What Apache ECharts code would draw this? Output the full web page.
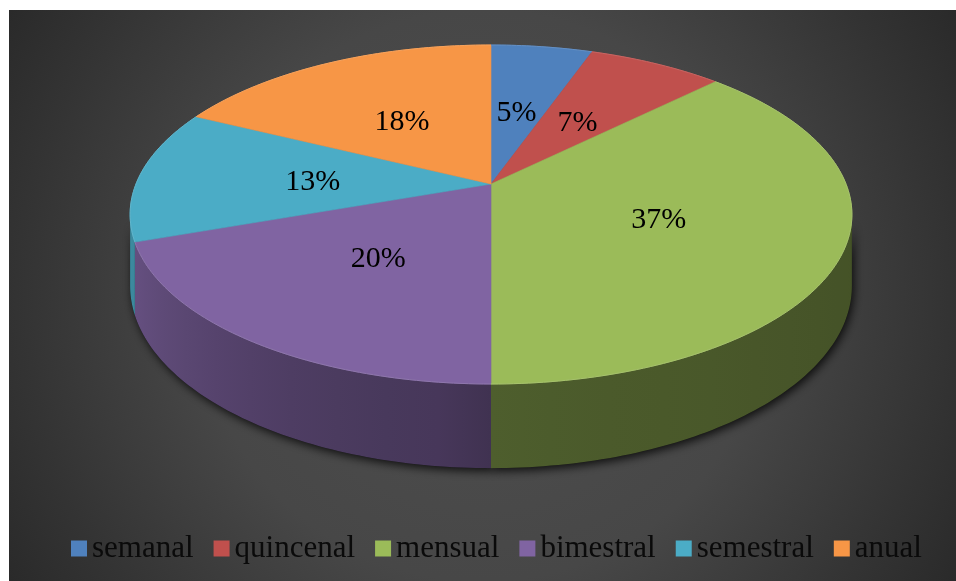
<!DOCTYPE html>
<html>
<head>
<meta charset="utf-8">
<script src="https://cdn.jsdelivr.net/npm/echarts@6/dist/echarts.min.js"></script>
<style>
  html, body { margin: 0; padding: 0; background: #ffffff; }
  #chart { width: 956px; height: 581px; }
</style>
</head>
<body>
<div id="chart"></div>
<script>
// ---- data ----
const categories = ['semanal', 'quincenal', 'mensual', 'bimestral', 'semestral', 'anual'];
const values = [5.4, 7.2, 37.4, 19.6, 12.7, 17.7];
const palette = ['#4f81bd', '#c0504d', '#9bbb59', '#8064a2', '#4bacc6', '#f79646'];

// ---- 3D pie projection (perspective view of a tilted disk) ----
const CX = 491, CY = 184, RA = 355, RB = 164, PK = 0.18, DEPTH = 69;
const FONT = 'Liberation Serif, Times New Roman, DejaVu Serif, serif';

function proj(t, r) {
  const u = r * Math.sin(t), v = r * Math.cos(t);
  const d = 1 + PK * v;
  return [CX + RA * u / d, CY - RB * v / d];
}
function projBottom(t) {
  const p = proj(t, 1);
  return [p[0], p[1] + DEPTH / (1 + PK * Math.cos(t))];
}
function parseColor(c) {
  const h = c.replace('#', '');
  return [parseInt(h.slice(0, 2), 16), parseInt(h.slice(2, 4), 16), parseInt(h.slice(4, 6), 16)];
}
function shade(c, f) {
  const rgb = parseColor(c).map(x => Math.max(0, Math.min(255, Math.round(x * f))));
  return 'rgb(' + rgb.join(',') + ')';
}
function lighten(c, f) {
  const rgb = parseColor(c).map(x => Math.round(x + (255 - x) * f));
  return 'rgb(' + rgb.join(',') + ')';
}
function sideFactor(t) {
  const s = Math.sin(t);
  if (s >= 0) return 0.5 - 0.06 * s;
  return 0.55 + 0.27 * Math.pow(-s, 2);
}
function arcPoints(a0, a1, fn) {
  const pts = [];
  const n = Math.max(2, Math.ceil((a1 - a0) / (Math.PI / 180)));
  for (let i = 0; i <= n; i++) pts.push(fn(a0 + (a1 - a0) * i / n));
  return pts;
}

function makeRender(idx) {
  return function (params, api) {
    const total = values.reduce((a, b) => a + b, 0);
    let start = 0;
    for (let i = 0; i < idx; i++) start += values[i];
    const val = api.value(0);
    const a0 = start / total * 2 * Math.PI;
    const a1 = (start + val) / total * 2 * Math.PI;
    const color = api.visual('color');
    const children = [];

    // visible side wall
    const tR = Math.acos(-PK), tL = 2 * Math.PI - tR;
    const s = Math.max(a0, tR), e = Math.min(a1, tL);
    if (e > s) {
      const topArc = arcPoints(s, e, t => proj(t, 1));
      const botArc = arcPoints(s, e, projBottom).reverse();
      const poly = topArc.concat(botArc);
      const x0 = proj(s, 1)[0], x1 = proj(e, 1)[0];
      let fill;
      if (Math.abs(x1 - x0) < 2) {
        fill = shade(color, sideFactor((s + e) / 2));
      } else {
        const stops = [];
        const n = 10;
        for (let i = 0; i <= n; i++) {
          const t = s + (e - s) * i / n;
          let off = (proj(t, 1)[0] - x0) / (x1 - x0);
          off = Math.max(0, Math.min(1, off));
          if (stops.length && off < stops[stops.length - 1].offset) off = stops[stops.length - 1].offset;
          stops.push({ offset: off, color: shade(color, sideFactor(t)) });
        }
        fill = { type: 'linear', x: x0, y: 0, x2: x1, y2: 0, global: true, colorStops: stops };
      }
      // shadow
      children.push({
        type: 'polygon', z2: 0,
        shape: { points: poly },
        style: { fill: '#111', shadowColor: 'rgba(0,0,0,0.8)', shadowBlur: 10, shadowOffsetX: 2, shadowOffsetY: 3 }
      });
      children.push({
        type: 'polygon', z2: 1,
        shape: { points: poly },
        style: { fill: fill, stroke: null }
      });
    }

    // top face
    const top = [[CX, CY]].concat(arcPoints(a0, a1, t => proj(t, 1)));
    children.push({
      type: 'polygon', z2: 2,
      shape: { points: top },
      style: { fill: color, stroke: color, lineWidth: 0.6 }
    });
    // rim highlight
    children.push({
      type: 'polyline', z2: 3,
      shape: { points: arcPoints(a0, a1, t => proj(t, 1)) },
      style: { stroke: lighten(color, 0.12), lineWidth: 1, fill: null }
    });

    // label
    const mid = (a0 + a1) / 2;
    const lp = proj(mid, 0.5);
    children.push({
      type: 'text', z2: 4,
      x: lp[0] - 2, y: lp[1] + 3,
      style: {
        text: Math.round(val / total * 100) + '%',
        fill: '#000000',
        fontSize: 30,
        fontFamily: FONT,
        align: 'center', verticalAlign: 'middle',
        textAlign: 'center', textVerticalAlign: 'middle'
      }
    });

    return { type: 'group', children: children };
  };
}

const chart = echarts.init(document.getElementById('chart'), null, { renderer: 'canvas' });
chart.setOption({
  animation: false,
  color: palette,
  graphic: [{
    type: 'rect', z: -10, silent: true,
    left: 9, top: 10,
    shape: { width: 947, height: 571 },
    style: {
      fill: {
        type: 'radial', x: 0.5, y: 0.5, r: 1,
        colorStops: [
          { offset: 0, color: '#4f4f4f' },
          { offset: 0.5, color: '#474747' },
          { offset: 0.8, color: '#343434' },
          { offset: 1, color: '#282828' }
        ]
      }
    }
  }],
  legend: {
    data: categories,
    left: 66, top: 528,
    icon: 'rect',
    itemWidth: 16, itemHeight: 16,
    itemGap: 20,
    textStyle: { fontSize: 31, fontFamily: FONT, color: '#0a0a0a' }
  },
  series: categories.map((name, i) => ({
    type: 'custom',
    name: name,
    coordinateSystem: 'none',
    silent: true,
    data: [[values[i]]],
    renderItem: makeRender(i)
  }))
});
</script>
</body>
</html>
